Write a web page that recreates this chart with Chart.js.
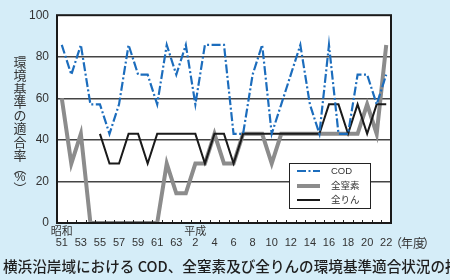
<!DOCTYPE html>
<html lang="ja">
<head>
<meta charset="utf-8">
<script src="https://cdn.jsdelivr.net/npm/chart.js@4.4.1/dist/chart.umd.min.js"></script>
<style>
  html, body { margin: 0; padding: 0; background: #d5edf8; }
  #wrap { width: 450px; height: 280px; }
</style>
</head>
<body>
<div id="wrap"><canvas id="chart" width="450" height="280"></canvas></div>
<script>
// -- Data (fiscal years 昭和51 .. 平成22) ----------------------------------

const years = ['51', '52', '53', '54', '55', '56', '57', '58', '59', '60', '61', '62', '63',
  '元', '2', '3', '4', '5', '6', '7', '8', '9', '10', '11', '12', '13', '14', '15', '16',
  '17', '18', '19', '20', '21', '22'];
const eraLabels = { 0: '昭和', 14: '平成' };

const codRate = [85.7, 71.4, 85.7, 57.1, 57.1, 42.9, 57.1, 85.7, 71.4, 71.4, 57.1, 85.7,
  71.4, 85.7, 57.1, 85.7, 85.7, 85.7, 42.9, 42.9, 71.4, 85.7, 42.9, 57.1, 71.4, 85.7,
  57.1, 42.9, 85.7, 42.9, 42.9, 71.4, 71.4, 57.1, 71.4];
const nitrogenRate = [60, 28.6, 42.9, 0, 0, 0, 0, 0, 0, 0, 0, 28.6, 14.3, 14.3, 28.6, 28.6,
  42.9, 28.6, 28.6, 42.9, 42.9, 42.9, 28.6, 42.9, 42.9, 42.9, 42.9, 42.9, 42.9, 42.9,
  42.9, 42.9, 57.1, 42.9, 85.7];
const phosphorusRate = [null, null, null, null, 42.9, 28.6, 28.6, 42.9, 42.9, 28.6, 42.9,
  42.9, 42.9, 42.9, 42.9, 28.6, 42.9, 42.9, 28.6, 42.9, 42.9, 42.9, 42.9, 42.9, 42.9,
  42.9, 42.9, 42.9, 57.1, 57.1, 42.9, 57.1, 42.9, 57.1, 57.1];

const seriesNames = ['COD', '全窒素', '全りん'];
const yTicks = [0, 20, 40, 60, 80, 100];

const yTitle = ['環', '境', '基', '準', 'の', '適', '合', '率'];
const caption = '横浜沿岸域における COD、全窒素及び全りんの環境基準適合状況の推移';

// -- Style ------------------------------------------------------------------

const FONT = '"Liberation Sans", "Noto Sans CJK JP", sans-serif';
const JP = '"Noto Sans CJK JP", sans-serif';
const TEXT = '#333';
const COD_DASH = [9, 2.5, 2, 2.5];

// -- Plugins ------------------------------------------------------------------

const plotBackground = {
  id: 'plotBackground',
  beforeDraw(chart) {
    const { ctx, chartArea: a } = chart;
    ctx.save();
    ctx.fillStyle = '#fff';
    ctx.fillRect(a.left, a.top, a.right - a.left, a.bottom - a.top);
    ctx.restore();
  },
};

const frame = {
  id: 'frame',
  afterDraw(chart) {
    const { ctx, chartArea: a } = chart;
    const x = chart.scales.x;
    ctx.save();
    // inner ticks on the bottom edge, at year boundaries
    const step = x.getPixelForValue(1) - x.getPixelForValue(0);
    ctx.strokeStyle = '#222';
    ctx.lineWidth = 1;
    ctx.beginPath();
    for (let i = 1; i < years.length; i++) {
      const px = Math.round(x.getPixelForValue(i) - step / 2) + 0.5;
      ctx.moveTo(px, a.bottom);
      ctx.lineTo(px, a.bottom - 3);
    }
    ctx.stroke();
    ctx.lineWidth = 2;
    ctx.strokeStyle = '#1a1a1a';
    ctx.strokeRect(a.left, a.top, a.right - a.left, a.bottom - a.top);
    ctx.restore();
  },
};

const legendBox = {
  id: 'legendBox',
  afterDraw(chart) {
    const { ctx } = chart;
    const box = { x: 289.5, y: 163.5, w: 81, h: 45 };
    ctx.save();
    ctx.fillStyle = '#fff';
    ctx.fillRect(box.x, box.y, box.w, box.h);
    ctx.strokeStyle = '#222';
    ctx.lineWidth = 1;
    ctx.strokeRect(box.x, box.y, box.w, box.h);
    const rows = [171, 186, 200];
    chart.data.datasets.forEach((ds, i) => {
      ctx.beginPath();
      ctx.strokeStyle = ds.borderColor;
      ctx.lineWidth = ds.borderWidth;
      ctx.setLineDash(ds.borderDash || []);
      ctx.moveTo(297, rows[i]);
      ctx.lineTo(320, rows[i]);
      ctx.stroke();
      ctx.setLineDash([]);
      ctx.fillStyle = TEXT;
      ctx.font = '9.5px ' + FONT;
      ctx.textBaseline = 'middle';
      ctx.textAlign = 'left';
      ctx.fillText(ds.label, 331, rows[i] + 0.5);
    });
    ctx.restore();
  },
};

const extraText = {
  id: 'extraText',
  afterDraw(chart) {
    const { ctx } = chart;
    ctx.save();
    ctx.fillStyle = TEXT;
    ctx.textAlign = 'center';
    ctx.textBaseline = 'middle';
    // vertical axis title
    ctx.font = '13px ' + JP;
    yTitle.forEach((ch, i) => ctx.fillText(ch, 20, 62 + i * 13.3));
    ctx.fillText('︵', 20, 168);
    ctx.font = '12px ' + FONT;
    ctx.fillText('%', 20, 178);
    ctx.font = '13px ' + JP;
    ctx.fillText('︶', 20, 188);
    // unit after the last year label
    ctx.font = '12px ' + JP;
    ctx.fillText('（', 396, 243);
    ctx.fillText('年', 407, 243);
    ctx.fillText('度', 419, 243);
    ctx.fillText('）', 429, 243);
    // caption
    ctx.fillStyle = '#1f1f1f';
    ctx.textAlign = 'left';
    ctx.font = '500 14.6px ' + JP;
    ctx.fillText(caption, 3, 266);
    ctx.restore();
  },
};

// -- Chart --------------------------------------------------------------------

Chart.defaults.animation = false;
Chart.defaults.font.family = FONT;
Chart.defaults.color = TEXT;

new Chart(document.getElementById('chart'), {
  type: 'line',
  data: {
    labels: years,
    datasets: [
      {
        label: seriesNames[0],
        data: codRate,
        borderColor: '#1c6dbd',
        borderWidth: 2.2,
        borderDash: COD_DASH,
        order: 0,
      },
      {
        label: seriesNames[1],
        data: nitrogenRate,
        borderColor: '#8c8c8c',
        borderWidth: 4,
        order: 2,
      },
      {
        label: seriesNames[2],
        data: phosphorusRate,
        borderColor: '#1a1a1a',
        borderWidth: 2,
        order: 1,
      },
    ],
  },
  options: {
    responsive: false,
    devicePixelRatio: 1,
    layout: { padding: { top: 15, right: 59, left: 0, bottom: 0 } },
    elements: {
      point: { radius: 0 },
      line: { tension: 0, fill: false, borderJoinStyle: 'miter', borderCapStyle: 'butt' },
    },
    scales: {
      x: {
        offset: true,
        grid: { display: false, drawTicks: false },
        border: { display: false },
        afterFit(scale) { scale.height = 57; },
        ticks: {
          autoSkip: false,
          maxRotation: 0,
          padding: 3,
          color: TEXT,
          font: { size: 11, lineHeight: 1.0 },
          callback: (val, idx) => (idx % 2 === 0 ? [eraLabels[idx] || '', years[idx]] : ''),
        },
      },
      y: {
        min: 0,
        max: 100,
        afterFit(scale) { scale.width = 57; },
        afterBuildTicks(scale) { scale.ticks = yTicks.map((v) => ({ value: v })); },
        grid: {
          drawTicks: false,
          lineWidth: 1.5,
          color: (c) => (c.tick && (c.tick.value === 0 || c.tick.value === 100) ? 'transparent' : '#444'),
        },
        border: { display: false },
        ticks: { padding: 8, color: TEXT, font: { size: 12 } },
      },
    },
    plugins: {
      legend: { display: false },
      tooltip: { enabled: false },
    },
  },
  plugins: [plotBackground, frame, legendBox, extraText],
});
</script>
</body>
</html>
